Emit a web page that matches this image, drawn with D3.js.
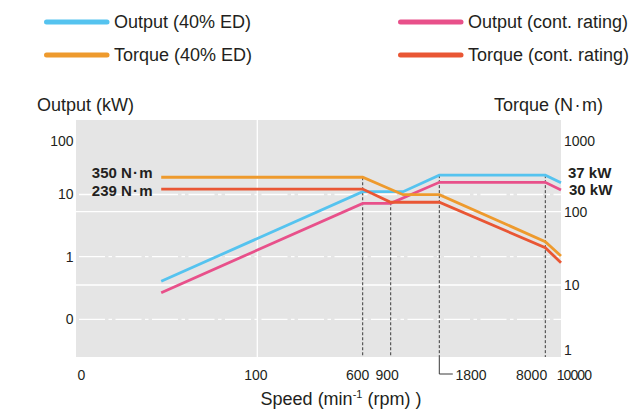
<!DOCTYPE html>
<html>
<head>
<meta charset="utf-8">
<title>Output / Torque vs Speed</title>
<script src="https://d3js.org/d3.v7.min.js"></script>
<style>
  body { margin: 0; background: #fff; font-family: 'Liberation Sans', Arial, sans-serif; }
  svg text { fill: #231f20; }
  .axis path, .axis line { display: none; }
</style>
</head>
<body>
<svg width="638" height="409"></svg>
<script>
// axes
var speedTicks = [0, 100, 600, 900, 1800, 8000, 10000];
var outputTicks = [0.1, 1, 10, 100];
var outputTickLabels = ["0", "1", "10", "100"];
var torqueTicks = [1, 10, 100, 1000];

// series (speed in min-1)
var outputEdSpeed = [47, 600, 1130, 1800, 8000, 10000];
var outputEdKw = [0.405, 11.3, 11.3, 23, 23, 16.6];
var outputContSpeed = [47, 600, 900, 1800, 8000, 10000];
var outputContKw = [0.266, 7.2, 7.2, 16.9, 16.9, 12.1];
var torqueEdSpeed = [47, 600, 1130, 1800, 8000, 10000];
var torqueEdNm = [307, 307, 174, 174, 39, 24.9];
var torqueContSpeed = [47, 600, 900, 1800, 8000, 10000];
var torqueContNm = [209, 209, 136, 136, 32.3, 20.1];

// speeds marked with dashed drop lines
var markerSpeeds = [600, 900, 1800, 8000];

var svg = d3.select("svg");
var plot = { left: 76, right: 561, top: 120, bottom: 357 };

// the chart is schematic, so each decade gets its own length
var x = d3.scaleLinear().domain(speedTicks)
    .range([76, 257.3, 362.7, 390.7, 439.3, 545.3, 561]);
var yOut = d3.scaleLog().domain(outputTicks).range([319.3, 256.7, 194.5, 141]);
var yTq = d3.scaleLog().domain(torqueTicks).range([350, 285, 211.7, 141]);

var series = [
    { name: "Output (40% ED)", speed: outputEdSpeed, val: outputEdKw, y: yOut, color: "#55c3ef" },
    { name: "Output (cont. rating)", speed: outputContSpeed, val: outputContKw, y: yOut, color: "#e8508a" },
    { name: "Torque (40% ED)", speed: torqueEdSpeed, val: torqueEdNm, y: yTq, color: "#ee9a2d" },
    { name: "Torque (cont. rating)", speed: torqueContSpeed, val: torqueContNm, y: yTq, color: "#e95634" }
];

// background
svg.append("rect")
    .attr("x", plot.left).attr("y", plot.top)
    .attr("width", plot.right - plot.left).attr("height", plot.bottom - plot.top)
    .attr("fill", "#e5e5e5");

// grid: dash-dot for output decades, solid for torque decades, one vertical at 100
var grid = svg.append("g");
grid.selectAll(".gout").data(outputTicks.filter(d => d < 100)).enter().append("line")
    .attr("x1", plot.left).attr("x2", plot.right)
    .attr("y1", d => yOut(d)).attr("y2", d => yOut(d))
    .attr("stroke", "#fff").attr("stroke-width", 1.3)
    .attr("stroke-dasharray", "26,3.5,3.5,3.5")
    .attr("stroke-dashoffset", -3);
grid.selectAll(".gtq").data(torqueTicks.filter(d => d > 1 && d < 1000)).enter().append("line")
    .attr("x1", plot.left).attr("x2", plot.right)
    .attr("y1", d => yTq(d)).attr("y2", d => yTq(d))
    .attr("stroke", "#fff").attr("stroke-width", 1.3);
grid.append("line")
    .attr("x1", x(100)).attr("x2", x(100))
    .attr("y1", plot.top).attr("y2", plot.bottom)
    .attr("stroke", "#fff").attr("stroke-width", 1.3);

// dashed drop lines from the highest vertex at each marked speed
markerSpeeds.forEach(function (s) {
    var top = d3.min(series, function (ser) {
        var i = ser.speed.indexOf(s);
        return i < 0 ? Infinity : ser.y(ser.val[i]);
    });
    svg.append("line")
        .attr("x1", x(s)).attr("x2", x(s))
        .attr("y1", top).attr("y2", plot.bottom)
        .attr("stroke", "#3a3a3a").attr("stroke-width", 1)
        .attr("stroke-dasharray", "3,2");
});
// leader for the 1800 label
svg.append("polyline")
    .attr("points", [[x(1800), plot.bottom], [x(1800), 374], [x(1800) + 13.5, 374]].join(" "))
    .attr("fill", "none").attr("stroke", "#3a3a3a").attr("stroke-width", 1);

// lines
var line = d3.line();
svg.selectAll(".series").data(series).enter().append("path")
    .attr("d", d => line(d.speed.map((s, i) => [x(s), d.y(d.val[i])])))
    .attr("fill", "none")
    .attr("stroke", d => d.color)
    .attr("stroke-width", 2.8)
    .attr("stroke-linejoin", "miter");

// left axis
var axL = svg.append("g").attr("class", "axis")
    .attr("transform", "translate(" + plot.left + ",0)")
    .call(d3.axisLeft(yOut).tickValues(outputTicks).tickSize(0).tickPadding(2.5)
        .tickFormat((d, i) => outputTickLabels[i]));
axL.selectAll("text").style("font-size", "14px").style("font-family", "'Liberation Sans', Arial, sans-serif");

// right axis
var axR = svg.append("g").attr("class", "axis")
    .attr("transform", "translate(" + plot.right + ",0)")
    .call(d3.axisRight(yTq).tickValues(torqueTicks).tickSize(0).tickPadding(3)
        .tickFormat(d3.format("d")));
axR.selectAll("text").style("font-size", "14px").style("font-family", "'Liberation Sans', Arial, sans-serif");

// bottom axis, labels nudged like the original
var xLabelStyle = {
    0: { anchor: "start", dx: 1 },
    100: { anchor: "middle", dx: -2 },
    600: { anchor: "middle", dx: -5.5 },
    900: { anchor: "middle", dx: -4 },
    1800: { anchor: "start", dx: 15.7 },
    8000: { anchor: "end", dx: 1.4 },
    10000: { anchor: "middle", dx: 12.4, spacing: "-0.9px" }
};
var axB = svg.append("g").attr("class", "axis")
    .attr("transform", "translate(0," + plot.bottom + ")")
    .call(d3.axisBottom(x).tickValues(speedTicks).tickSize(0).tickPadding(0)
        .tickFormat(d3.format("d")));
axB.selectAll("text")
    .style("font-size", "14px").style("font-family", "'Liberation Sans', Arial, sans-serif")
    .attr("y", 13).attr("dy", "0.71em")
    .attr("text-anchor", d => xLabelStyle[d].anchor)
    .attr("dx", d => xLabelStyle[d].dx)
    .style("letter-spacing", d => xLabelStyle[d].spacing || null);

// axis titles
svg.append("text").attr("x", 37).attr("y", 105).attr("dy", "0.35em")
    .style("font-size", "18px").text("Output (kW)");
svg.append("text").attr("x", 603).attr("y", 105).attr("dy", "0.35em")
    .attr("text-anchor", "end").style("font-size", "18px").text("Torque (N\u200a\u00b7\u200am)");
var xt = svg.append("text").attr("x", 341).attr("y", 405)
    .attr("text-anchor", "middle").style("font-size", "18px");
xt.append("tspan").text("Speed (min");
xt.append("tspan").attr("dy", -7).style("font-size", "11px").text("-1");
xt.append("tspan").attr("dy", 7).text(" (rpm) )");

// value annotations
function note(t, xp, yp, anchor) {
    svg.append("text").attr("x", xp).attr("y", yp).attr("dy", "0.35em")
        .attr("text-anchor", anchor)
        .style("font-size", "15px").style("font-weight", "bold")
        .text(t);
}
note("350 N\u200a\u00b7\u200am", x(torqueEdSpeed[0]) - 8.5, yTq(torqueEdNm[0]) - 5, "end");
note("239 N\u200a\u00b7\u200am", x(torqueContSpeed[0]) - 8.5, yTq(torqueContNm[0]) + 2, "end");
note("37 kW", plot.right + 7, yOut(outputEdKw[4]) - 2, "start");
note("30 kW", plot.right + 8, yOut(outputContKw[5]) - 0.5, "start");

// legend
var legendPos = [[44, 22], [398, 22], [44, 55], [398, 55]];
var leg = svg.append("g").selectAll("g").data(series).enter().append("g")
    .attr("transform", (d, i) => "translate(" + legendPos[i][0] + "," + legendPos[i][1] + ")");
leg.append("line")
    .attr("x1", 2.5).attr("x2", 63)
    .attr("stroke", d => d.color)
    .attr("stroke-width", 5).attr("stroke-linecap", "round");
leg.append("text").attr("x", 70).attr("dy", "0.35em")
    .style("font-size", "18px").text(d => d.name);
</script>
</body>
</html>
